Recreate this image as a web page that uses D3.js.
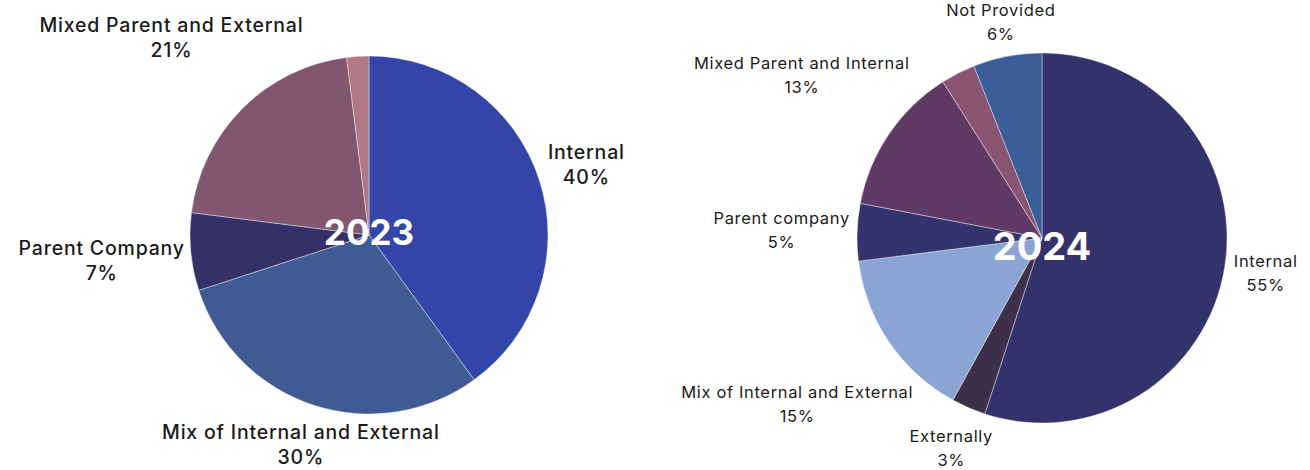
<!DOCTYPE html>
<html>
<head>
  <style>
    body, html { margin: 0; padding: 0; background: #fff; }
    svg { display: block; font-family: Inter, "Open Sans", sans-serif; }
  </style>
</head>
<body>
  <svg id="svg" width="1310" height="470"></svg>
  <script src="https://d3js.org/d3.v7.min.js"></script>
  <script>
    // 2023 distribution
    const labels2023 = ["Internal", "Mix of Internal and External", "Parent Company", "Mixed Parent and External", ""]
    const values2023 = [40, 30, 7, 21, 2]
    const colors2023 = ["#3346a8", "#405a94", "#353068", "#83566f", "#b07985"]

    // 2024 distribution
    const labels2024 = ["Internal", "Externally", "Mix of Internal and External", "Parent company", "Mixed Parent and Internal", "", "Not Provided"]
    const values2024 = [55, 3, 15, 5, 13, 3, 6]
    const colors2024 = ["#33326a", "#3e2f4b", "#8aa4d4", "#34336d", "#5f3a65", "#8a5573", "#3c5e98"]

    const svg = d3.select("#svg")

    function drawPie(opts) {
      const data = opts.values.map((v, i) => ({ label: opts.labels[i], value: v, color: opts.colors[i] }))
      const pie = d3.pie().sort(null).value(d => d.value)
      const arc = d3.arc().innerRadius(0).outerRadius(opts.r)
      const g = svg.append("g").attr("transform", `translate(${opts.cx},${opts.cy})`)

      g.selectAll("path")
        .data(pie(data))
        .enter()
        .append("path")
        .attr("d", arc)
        .attr("fill", d => d.data.color)
        .attr("stroke", "#fff")
        .attr("stroke-width", 0.4)

      // labels pushed out along mid angle until box clears the pie
      pie(data).filter(d => d.data.label).forEach(d => {
        const t = g.append("text")
          .attr("fill", "#1a1a1a")
          .attr("font-size", opts.fontSize)
          .attr("font-weight", opts.fontWeight)
          .attr("letter-spacing", opts.spacing)
          .attr("text-anchor", "middle")
          .attr("dominant-baseline", "central")
        const l1 = t.append("tspan").text(d.data.label)
        const l2 = t.append("tspan").text(d.data.value + "%")
        const w = Math.max(l1.node().getComputedTextLength(), l2.node().getComputedTextLength())
        const h = opts.lineGap * 2
        const a = (d.startAngle + d.endAngle) / 2
        const ux = Math.sin(a), uy = -Math.cos(a)
        let dist = opts.r
        for (let k = 0; k < 400; k++) {
          const x = ux * dist, y = uy * dist
          const dx = Math.max(0, Math.abs(x) - w / 2)
          const dy = Math.max(0, Math.abs(y) - h / 2)
          if (Math.sqrt(dx * dx + dy * dy) >= opts.r + opts.gap) break
          dist += 0.5
        }
        const x = ux * dist, y = uy * dist
        l1.attr("x", x).attr("y", y - opts.lineGap / 2)
        l2.attr("x", x).attr("y", y + opts.lineGap / 2)
      })

      g.append("text")
        .attr("x", opts.yearDx)
        .attr("y", opts.yearDy)
        .attr("text-anchor", "middle")
        .attr("dominant-baseline", "central")
        .attr("fill", "#fff")
        .attr("font-size", opts.yearSize)
        .attr("font-weight", 700)
        .text(opts.year)
    }

    drawPie({
      labels: labels2023, values: values2023, colors: colors2023,
      cx: 369, cy: 235, r: 179, fontSize: 19.5, fontWeight: 500, spacing: 0.8, lineGap: 25.5, gap: 5,
      year: "2023", yearSize: 35, yearDx: 0, yearDy: -3
    })

    drawPie({
      labels: labels2024, values: values2024, colors: colors2024,
      cx: 1042, cy: 238, r: 185, fontSize: 16.5, fontWeight: 400, spacing: 0.65, lineGap: 24, gap: 7,
      year: "2024", yearSize: 38, yearDx: 0, yearDy: 8
    })
  </script>
</body>
</html>
